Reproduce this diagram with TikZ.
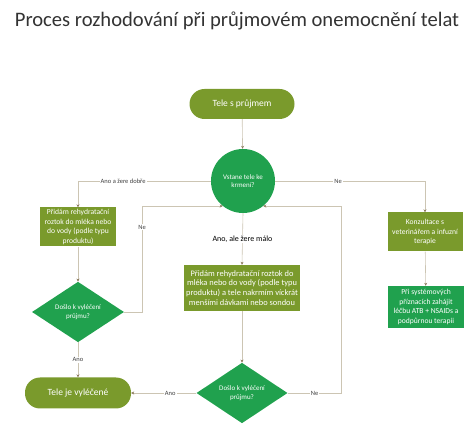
\documentclass[tikz,border=0pt]{standalone}
\usepackage{fontspec}
\setmainfont{Carlito}
\usetikzlibrary{arrows.meta,shapes.geometric}
\definecolor{olive}{HTML}{7A9A2C}
\definecolor{leaf}{HTML}{20A14E}
\definecolor{wire}{HTML}{CCC5B3}
\definecolor{tipc}{HTML}{8C7B5E}
\begin{document}
\begin{tikzpicture}[x=1pt, y=-1pt,
        box/.style = {fill=olive, text=white, align=center, inner sep=2pt, font=\fontsize{7.6}{9.4}\selectfont},
        greenbox/.style = {box, fill=leaf},
        pill/.style = {fill=olive, text=white, rounded corners=15pt, font=\fontsize{9.5}{11}\selectfont},
        ask/.style = {diamond, fill=leaf, text=white, align=center, inner sep=0pt, font=\fontsize{7}{8.8}\selectfont},
        link/.style = {wire, line width=0.6pt, -{Stealth[length=3pt, width=3pt, color=tipc]}},
        lbl/.style = {fill=white, text=black!75, inner sep=1pt, font=\fontsize{6.5}{7}\selectfont}]
        \useasboundingbox (0,0) rectangle (474,427);

        \node[text=black!80, font=\fontsize{20.6}{24}\selectfont] (title) at (237,21) {Proces rozhodování při průjmovém onemocnění telat};

        % hlavni osa
        \node[pill, minimum width=105pt, minimum height=30pt] (start) at (242,104) {Tele s průjmem};
        \node[circle, fill=leaf, text=white, minimum size=64pt, inner sep=0pt, align=center, font=\fontsize{7}{8.8}\selectfont] (stand) at (243,181) {Vstane tele ke\\krmení?};
        \node[box, minimum width=116pt, minimum height=46pt, font=\fontsize{8.4}{9.8}\selectfont] (feedsmall) at (242,288) {Přidám rehydratační roztok do\\mléka nebo do vody (podle typu\\produktu) a tele nakrmím víckrát\\menšími dávkami nebo sondou};
        \node[ask, minimum width=91pt, minimum height=57pt] (cured2) at (242,393) {Došlo k vyléčení\\průjmu?};

        % leva vetev
        \node[box, minimum width=76pt, minimum height=39pt] (feedwell) at (78,227) {Přidám rehydratační\\roztok do mléka nebo\\do vody (podle typu\\produktu)};
        \node[ask, minimum width=92pt, minimum height=59pt] (cured1) at (78,312) {Došlo k vyléčení\\průjmu?};
        \node[pill, minimum width=106pt, minimum height=31pt] (healed) at (78,393) {Tele je vyléčené};

        % prava vetev
        \node[box, minimum width=75pt, minimum height=39pt] (vet) at (425,232) {Konzultace s\\veterinářem a infuzní\\terapie};
        \node[greenbox, minimum width=76pt, minimum height=42pt] (systemic) at (426,307) {Při systémových\\příznacích zahájit\\léčbu ATB + NSAIDs a\\podpůrnou terapii};

        \draw[link] (start) -- (stand);
        \draw[link] (stand.west) -| (feedwell.north) node[lbl, pos=0.33] {Ano a žere dobře};
        \draw[link] (stand.south) -- (feedsmall.north) node[lbl, pos=0.5, text=black, font=\fontsize{8}{9}\selectfont] {Ano, ale žere málo};
        \draw[link] (stand.east) -| (vet.north) node[lbl, pos=0.21] {Ne};
        \draw[link] (feedwell) -- (cured1);
        \draw[link] (cured1) -- (healed) node[lbl, midway] {Ano};
        \draw[link] (cured1.east) -- ++(18,0) |- (stand.231) node[lbl, pos=0.4] {Ne};
        \draw[link] (feedsmall) -- (cured2);
        \draw[link] (cured2.west) -- (healed.east) node[lbl, pos=0.4] {Ano};
        \draw[link] (cured2.east) -- node[lbl, pos=0.5] {Ne} ++(54,0) |- (stand.309);
        \draw[link] (vet) -- (systemic);
\end{tikzpicture}
\end{document}
